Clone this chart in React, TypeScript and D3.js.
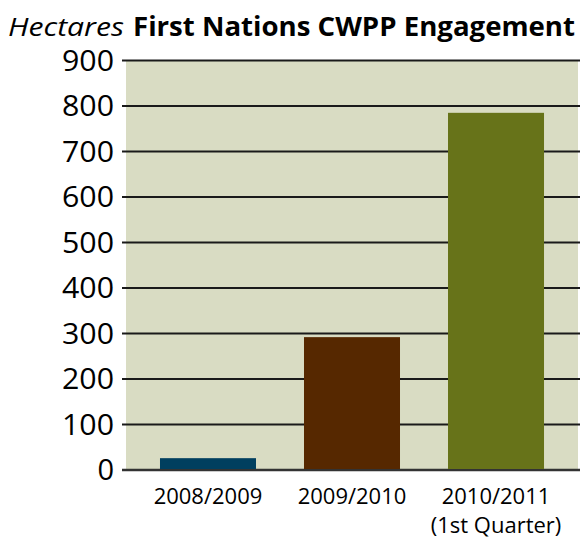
import { useRef, useEffect } from "react";
import * as d3 from "d3";

const categories = ["2008/2009", "2009/2010", "2010/2011\n(1st Quarter)"];
const values = [26, 292, 785];
const barColors = ["#003f5f", "#562800", "#677319"];
const yTicks = [0, 100, 200, 300, 400, 500, 600, 700, 800, 900];

const width = 585;
const height = 541;

export default function App() {
    const svgRef = useRef<SVGSVGElement | null>(null);

    useEffect(() => {
        if (!svgRef.current) return;
        const svg = d3.select(svgRef.current);
        svg.selectAll("*").remove();

        const plot = { left: 126, right: 578, top: 60.5, bottom: 470 };
        const font = "'Open Sans', 'Noto Sans', sans-serif";

        const x = d3
            .scaleBand()
            .domain(categories)
            .range([plot.left, plot.right])
            .paddingInner(1 / 3)
            .paddingOuter(0.236);

        const y = d3.scaleLinear().domain([0, 900]).range([plot.bottom, plot.top]);

        // plot background
        svg.append("rect")
            .attr("x", plot.left)
            .attr("y", plot.top)
            .attr("width", plot.right - plot.left)
            .attr("height", plot.bottom - plot.top)
            .attr("fill", "#d9dcc3");

        // grid lines
        svg.append("g")
            .selectAll("line")
            .data(yTicks)
            .enter()
            .append("line")
            .attr("x1", 122)
            .attr("x2", 580)
            .attr("y1", d => y(d))
            .attr("y2", d => y(d))
            .attr("stroke", d => (d === 0 ? "#333" : "#1a1a1a"))
            .attr("stroke-width", d => (d === 0 ? 2.5 : 2));

        // bars
        svg.append("g")
            .selectAll("rect")
            .data(values)
            .enter()
            .append("rect")
            .attr("x", (_d, i) => x(categories[i])!)
            .attr("y", d => y(d))
            .attr("width", x.bandwidth())
            .attr("height", d => y(0) - y(d) - 1)
            .attr("fill", (_d, i) => barColors[i]);

        // y labels
        svg.append("g")
            .selectAll("text")
            .data(yTicks)
            .enter()
            .append("text")
            .attr("x", 114)
            .attr("y", d => y(d))
            .attr("dy", "0.36em")
            .attr("text-anchor", "end")
            .attr("font-family", font)
            .attr("font-size", 29)
            .attr("textLength", d => (d === 0 ? null : 52))
            .attr("lengthAdjust", "spacingAndGlyphs")
            .attr("fill", "#000")
            .text(d => d);

        // x labels
        const xl = svg.append("g")
            .selectAll("text")
            .data(categories)
            .enter()
            .append("text")
            .attr("x", d => x(d)! + x.bandwidth() / 2)
            .attr("y", 504)
            .attr("text-anchor", "middle")
            .attr("font-family", font)
            .attr("font-size", 22)
            .attr("fill", "#000");
        xl.each(function (d) {
            const lines = d.split("\n");
            const t = d3.select(this);
            lines.forEach((l, i) => {
                t.append("tspan")
                    .attr("x", x(d)! + x.bandwidth() / 2)
                    .attr("dy", i === 0 ? 0 : 29)
                    .text(l);
            });
        });

        // titles
        svg.append("text")
            .attr("x", 8)
            .attr("y", 36)
            .attr("font-family", font)
            .attr("font-style", "italic")
            .attr("font-size", 26)
            .attr("textLength", 116)
            .attr("lengthAdjust", "spacingAndGlyphs")
            .text("Hectares");
        svg.append("text")
            .attr("x", 133)
            .attr("y", 36)
            .attr("font-family", font)
            .attr("font-weight", "bold")
            .attr("font-size", 26)
            .attr("textLength", 442)
            .attr("lengthAdjust", "spacingAndGlyphs")
            .text("First Nations CWPP Engagement");
    }, []);

    return (
        <svg
            ref={svgRef}
            width={width}
            height={height}
            style={{ position: "absolute", left: 0, top: 0, display: "block" }}
        />
    );
}
